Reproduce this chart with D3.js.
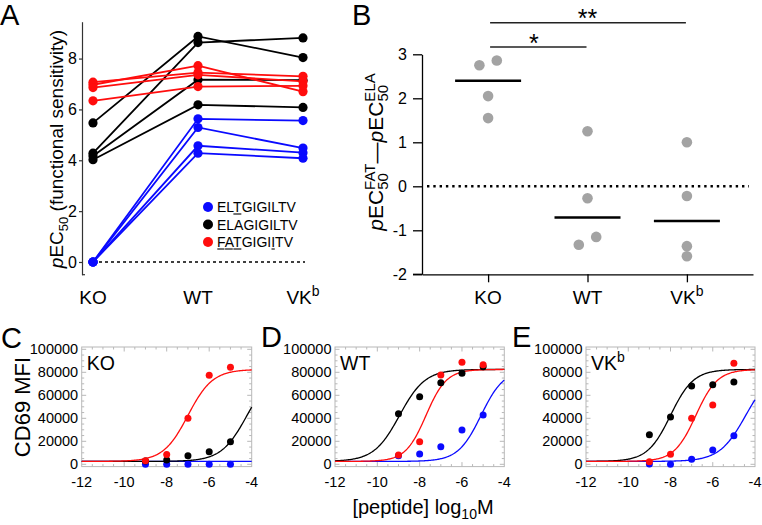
<!DOCTYPE html>
<html><head><meta charset="utf-8">
<script src="https://cdn.jsdelivr.net/npm/d3@7"></script>
<style>
body{margin:0;background:#fff;}
svg{display:block;font-family:'Liberation Sans',Arial,Helvetica,sans-serif;}
</style></head><body>
<svg id="chart" width="762" height="525"></svg>
<script>
// ---------------- Data ----------------
const groups = ["KO", "WT", "VKb"];
// Panel A: pEC50 for each line at KO, WT, VKb
const aBlue  = [[0, 5.63, 5.56], [0, 5.29, 4.48], [0, 4.57, 4.30], [0, 4.28, 4.08]];
const aBlack = [[5.47, 8.87, 8.04], [4.28, 8.63, 8.81], [4.17, 7.17, 7.15], [4.02, 6.18, 6.08]];
const aRed   = [[6.97, 7.72, 6.70], [7.07, 7.45, 7.30], [6.86, 7.36, 7.10], [6.34, 6.90, 6.93]];
const aTicks = [0, 2, 4, 6, 8];
const legendNames = ["ELTGIGILTV", "ELAGIGILTV", "FATGIGIITV"];
const legendUnderline = [[2], [], [0, 1, 2, 7]];
// Panel B: pEC50(FAT) - pEC50(ELA)
const bKO = [2.75, 2.86, 2.05, 1.55];
const bWT = [1.25, -0.27, -1.33, -1.15];
const bVK = [1.00, -0.22, -1.36, -1.59];
const bTicks = [-2, -1, 0, 1, 2, 3];
// Panels C-E: CD69 MFI vs log10 [peptide]
const doses = [-9, -8, -7, -6, -5];
const cBlue  = [0, 0, 0, 0, 0];
const cBlack = [2900, 3700, 7500, 11000, 19700];
const cRed   = [3000, 8500, 40000, 77500, 84500];
const dBlue  = [7500, 9000, 15300, 29800, 42900];
const dBlack = [44000, 58800, 71000, 79100, 84900];
const dRed   = [8100, 19700, 77700, 88700, 86600];
const eBlue  = [300, 0, 4300, 12400, 24900];
const eBlack = [25700, 41100, 68100, 69200, 71600];
const eRed   = [2300, 8700, 40000, 51600, 87800];
// fitted curves: [bottom, top, logEC50, hill]
const cFits = {blue: [2500, 2500, -6, 1], black: [2500, 82500, -4.22, 0.72], red: [2500, 82500, -7.0, 0.75]};
const dFits = {blue: [2500, 82500, -5.1, 0.8], black: [2500, 82500, -8.95, 0.72], red: [2500, 82500, -7.7, 0.9]};
const eFits = {blue: [2500, 82500, -4.44, 0.7], black: [2500, 82500, -8.0, 0.8], red: [2500, 82500, -6.8, 0.85]};
const doseXTicks = [-12, -10, -8, -6, -4];
const doseYTicks = [0, 20000, 40000, 60000, 80000, 100000];

const COL = {blue: "#0a0aff", black: "#000000", red: "#ff0d0d"};
const svg = d3.select("#chart");
svg.append("rect").attr("width", 762).attr("height", 525).attr("fill", "#fff");

// ---------------- Panel A ----------------
const gA = svg.append("g");
const xA = d3.scalePoint().domain(groups).range([93, 303]);
const yA = d3.scaleLinear().domain([-0.5, 9.45]).range([274.7, 21.7]);
const axA = gA.append("g").attr("transform", "translate(82,0)")
  .call(d3.axisLeft(yA).tickValues(aTicks).tickSize(3).tickSizeOuter(0).tickPadding(2));
axA.selectAll("path,line").attr("stroke", "#333").attr("stroke-width", 1.2);
axA.selectAll("text").attr("font-size", 16).attr("fill", "#000").attr("font-family", "'Liberation Sans',Arial,sans-serif");
gA.append("line").attr("x1", 82).attr("x2", 85).attr("y1", yA(-0.5)).attr("y2", yA(-0.5)).attr("stroke", "#333").attr("stroke-width", 1.2);

gA.append("line").attr("x1", xA("KO")).attr("x2", 305).attr("y1", yA(0)).attr("y2", yA(0))
  .attr("stroke", "#000").attr("stroke-width", 1.6).attr("stroke-dasharray", "3,3");

const lineA = d3.line().x((d, i) => xA(groups[i])).y(d => yA(d));
[["blue", aBlue], ["black", aBlack], ["red", aRed]].forEach(([c, set]) => {
  set.forEach(vals => {
    gA.append("path").attr("d", lineA(vals)).attr("fill", "none").attr("stroke", COL[c]).attr("stroke-width", 1.8);
    vals.forEach((v, i) => gA.append("circle").attr("cx", xA(groups[i])).attr("cy", yA(v)).attr("r", 4.6).attr("fill", COL[c]));
  });
});

// legend
const legCols = ["blue", "black", "red"];
legendNames.forEach((name, k) => {
  const yy = 207 + k * 17.5;
  gA.append("circle").attr("cx", 208).attr("cy", yy).attr("r", 5).attr("fill", COL[legCols[k]]);
  const t = gA.append("text").attr("x", 217).attr("y", yy + 5).attr("font-size", 14).text(name);
  const node = t.node();
  legendUnderline[k].forEach(ci => {
    const ext = node.getExtentOfChar(ci);
    gA.append("line").attr("x1", ext.x + 0.3).attr("x2", ext.x + ext.width - 0.3)
      .attr("y1", yy + 7).attr("y2", yy + 7).attr("stroke", "#000").attr("stroke-width", 1.1);
  });
});

// category labels
function catLabel(g, x, y) {
  groups.forEach(gname => {
    const t = g.append("text").attr("x", x(gname)).attr("y", y).attr("text-anchor", "middle").attr("font-size", 19);
    if (gname === "VKb") {
      t.append("tspan").text("VK");
      t.append("tspan").attr("dy", -8).attr("font-size", 14).text("b");
    } else t.text(gname);
  });
}
catLabel(gA, xA, 304);

// A y title
const tA = gA.append("text").attr("transform", "translate(63,149) rotate(-90)").attr("text-anchor", "middle").attr("font-size", 19);
tA.append("tspan").attr("font-style", "italic").text("p");
tA.append("tspan").text("EC");
tA.append("tspan").attr("font-size", 13).attr("dy", 5).text("50");
tA.append("tspan").attr("dy", -5).text(" (functional sensitivity)");

// ---------------- Panel B ----------------
const gB = svg.append("g");
const xB = d3.scalePoint().domain(groups).range([422, 753]).padding(0.665);
const yB = d3.scaleLinear().domain([-2, 3]).range([274.3, 54.3]);
const axBy = gB.append("g").attr("transform", "translate(422,0)")
  .call(d3.axisLeft(yB).tickValues(bTicks).tickFormat(d => String(d)).tickSize(9).tickSizeOuter(0).tickPadding(6));
axBy.selectAll("text").attr("font-size", 16).attr("font-family", "'Liberation Sans',Arial,sans-serif");
const axBx = gB.append("g").attr("transform", "translate(0,274.3)")
  .call(d3.axisBottom(xB).tickSize(8).tickSizeOuter(0).tickFormat(""));
gB.selectAll("path,line").attr("stroke", "#000").attr("stroke-width", 1.3);
gB.append("line").attr("x1", 413).attr("x2", 422).attr("y1", yB(-2)).attr("y2", yB(-2)).attr("stroke", "#000").attr("stroke-width", 1.3);
catLabel(gB, xB, 304);

gB.append("line").attr("x1", 427).attr("x2", 749).attr("y1", yB(0)).attr("y2", yB(0))
  .attr("stroke", "#000").attr("stroke-width", 2.6).attr("stroke-dasharray", "2.4,3.9");

const bSets = [["KO", bKO], ["WT", bWT], ["VKb", bVK]];
const rB = 5.3;
bSets.forEach(([gname, vals]) => {
  // dodge overlapping points horizontally
  const sorted = vals.map((v, i) => ({v, i})).sort((a, b) => a.v - b.v);
  const off = vals.map(() => 0);
  for (let k = 0; k < sorted.length - 1; k++) {
    const p = sorted[k], q = sorted[k + 1];
    if (Math.abs(yB(p.v) - yB(q.v)) < 2 * rB - 0.5 && off[p.i] === 0 && off[q.i] === 0) {
      off[p.i] = -8.7; off[q.i] = 8.7;
    }
  }
  vals.forEach((v, i) => gB.append("circle").attr("cx", xB(gname) + off[i]).attr("cy", yB(v)).attr("r", rB).attr("fill", "#a3a3a3"));
  const med = d3.median(vals);
  gB.append("line").attr("x1", xB(gname) - 33).attr("x2", xB(gname) + 33).attr("y1", yB(med)).attr("y2", yB(med))
    .attr("stroke", "#000").attr("stroke-width", 2.6);
});

// significance bars
function sigBar(a, b, y, label, tx) {
  gB.append("line").attr("x1", xB(a) + 2).attr("x2", xB(b) - 1).attr("y1", y).attr("y2", y).attr("stroke", "#222").attr("stroke-width", 1.4);
  gB.append("text").attr("x", tx).attr("y", y + 4.5).attr("text-anchor", "middle").attr("font-size", 25).text(label);
}
sigBar("KO", "VKb", 22.7, "**", (xB("KO") + xB("VKb")) / 2);
sigBar("KO", "WT", 47, "*", (xB("KO") + xB("WT")) / 2 - 4);

// B y title
const tB = gB.append("text").attr("transform", "translate(383,152) rotate(-90)").attr("text-anchor", "middle").attr("font-size", 21);
function pec(sup) {
  tB.append("tspan").attr("font-style", "italic").text("p");
  tB.append("tspan").text("EC");
  tB.append("tspan").attr("font-size", 15).attr("dy", 5).text("50");
  tB.append("tspan").attr("font-size", 15).attr("dx", -16.7).attr("dy", -13).text(sup);
}
pec("FAT");
tB.append("tspan").attr("dy", 8).text("\u2014");
pec("ELA");

// ---------------- Panels C-E ----------------
function logistic(p, x) { return p[0] + (p[1] - p[0]) / (1 + Math.pow(10, (p[2] - x) * p[3])); }

function dosePanel(x0, x1, series, fits, name) {
  const g = svg.append("g");
  const x = d3.scaleLinear().domain([-12, -4]).range([x0, x1]);
  const y = d3.scaleLinear().domain([-2000, 102000]).range([466.6, 347]);
  const fc = "#b8b8b8";
  g.append("rect").attr("x", x0).attr("y", y(102000)).attr("width", x1 - x0).attr("height", y(-2000) - y(102000))
    .attr("fill", "none").attr("stroke", fc).attr("stroke-width", 1);
  d3.range(-12, -3.99, 0.5).forEach(v => {
    const len = (v % 2 === 0) ? 4.5 : 2.5;
    if (v === -12 || v === -4) return;
    g.append("line").attr("x1", x(v)).attr("x2", x(v)).attr("y1", y(-2000)).attr("y2", y(-2000) - len).attr("stroke", fc);
    g.append("line").attr("x1", x(v)).attr("x2", x(v)).attr("y1", y(102000)).attr("y2", y(102000) + len).attr("stroke", fc);
  });
  d3.range(0, 100001, 5000).forEach(v => {
    const len = (v % 20000 === 0) ? 4.5 : 2.5;
    g.append("line").attr("x1", x0).attr("x2", x0 + len).attr("y1", y(v)).attr("y2", y(v)).attr("stroke", fc);
    g.append("line").attr("x1", x1).attr("x2", x1 - len).attr("y1", y(v)).attr("y2", y(v)).attr("stroke", fc);
  });
  doseXTicks.forEach(v => g.append("text").attr("x", x(v)).attr("y", 487).attr("text-anchor", "middle").attr("font-size", 14.5).text(v));
  doseYTicks.forEach(v => g.append("text").attr("x", x0 - 3.5).attr("y", y(v) + 5).attr("text-anchor", "end").attr("font-size", 14.5).text(v));
  const line = d3.line().x(d => x(d[0])).y(d => y(d[1]));
  const xs = d3.range(-12, -3.999, 0.04).concat([-4]);
  ["blue", "black", "red"].forEach(c => {
    g.append("path").attr("d", line(xs.map(v => [v, logistic(fits[c], v)]))).attr("fill", "none")
      .attr("stroke", COL[c]).attr("stroke-width", 1.3);
  });
  ["blue", "black", "red"].forEach(c => {
    series[c].forEach((v, i) => g.append("circle").attr("cx", x(doses[i])).attr("cy", y(v)).attr("r", 3.5).attr("fill", COL[c]));
  });
  const t = g.append("text").attr("x", x0 + 5).attr("y", 370).attr("font-size", 19.5);
  if (name === "VKb") { t.append("tspan").text("VK"); t.append("tspan").attr("dy", -8).attr("font-size", 14).text("b"); }
  else t.text(name);
}
dosePanel(81.7, 251.7, {blue: cBlue, black: cBlack, red: cRed}, cFits, "KO");
dosePanel(335, 504.3, {blue: dBlue, black: dBlack, red: dRed}, dFits, "WT");
dosePanel(586, 755, {blue: eBlue, black: eBlack, red: eRed}, eFits, "VKb");

svg.append("text").attr("transform", "translate(30,407) rotate(-90)").attr("text-anchor", "middle").attr("font-size", 22).text("CD69 MFI");
const tx = svg.append("text").attr("x", 423).attr("y", 514).attr("text-anchor", "middle").attr("font-size", 20);
tx.append("tspan").text("[peptide] log");
tx.append("tspan").attr("font-size", 14).attr("dy", 5).text("10");
tx.append("tspan").attr("dy", -5).text("M");

// panel letters
[["A", 0, 25], ["B", 352, 25], ["C", 1, 348], ["D", 261, 347], ["E", 512, 347]].forEach(([l, x, y]) =>
  svg.append("text").attr("x", x).attr("y", y).attr("font-size", 29).text(l));
</script>
</body></html>
